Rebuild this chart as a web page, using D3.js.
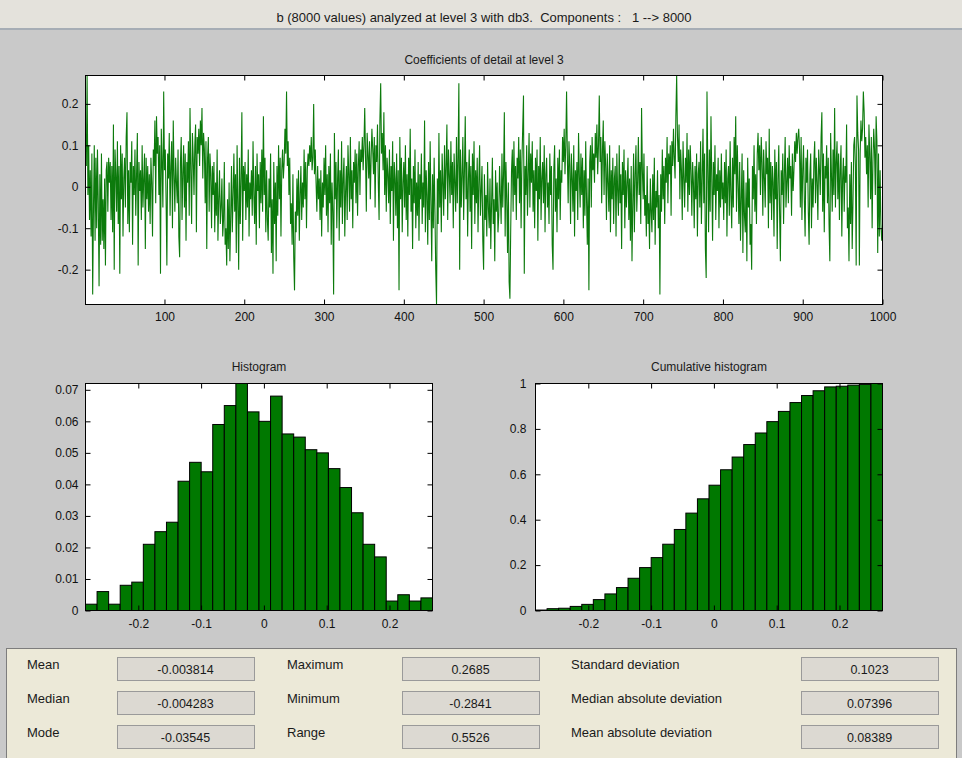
<!DOCTYPE html>
<html><head><meta charset="utf-8">
<script src="https://cdn.jsdelivr.net/npm/d3@7"></script>
<style>
html,body{margin:0;padding:0;background:#c9c9c9;}
svg{display:block;font-family:"Liberation Sans",Arial,sans-serif;}
</style></head><body>
<svg id="c" width="962" height="758"></svg>
<script>
// Detail coefficients at level 3 (1000 values, read/estimated from the picture)
const detailCoefficients = [
.12,.05,.2685,-.02,.10,-.08,.04,-.12,.08,-.26,-.05,.10,-.13,.07,-.10,.09,-.04,-.24,.03,-.14,
.08,-.13,-.03,-.15,.02,-.19,.04,.06,-.06,.07,.01,.06,-.08,.05,-.11,.15,-.20,.09,.03,-.06,
.11,-.09,.05,-.21,.10,-.03,.08,-.12,.02,.07,-.05,.12,.18,-.09,.04,-.11,.06,.01,.11,-.14,
.05,-.02,.09,-.07,.03,.13,-.19,.06,-.01,.04,-.08,.10,-.05,.02,.08,-.15,.07,-.03,.05,-.06,
.03,-.09,.07,.01,-.12,.09,.05,.16,-.04,.17,.08,.12,-.02,.10,-.21,.14,.06,-.05,.23,.04,
.09,-.03,-.19,.08,.02,.13,-.07,.05,.11,-.10,.16,.03,-.06,.07,.01,-.04,.09,-.12,-.17,.06,
.12,-.08,.03,.10,-.05,.08,-.13,.06,.01,.11,-.07,.19,.04,-.09,.13,.07,-.02,.10,.15,-.11,
.12,.08,.14,.05,.16,.10,.19,.02,.13,.09,-.04,.11,-.15,.07,.12,-.06,.08,.03,-.10,.05,
-.02,.06,-.11,.01,-.07,.09,-.13,-.03,.04,-.09,-.05,.02,-.12,-.08,.06,-.14,-.10,-.19,-.03,-.15,
.01,-.18,-.07,.05,-.11,-.02,.08,-.06,.03,-.16,.10,-.04,-.20,.07,-.09,.02,.18,-.13,.05,-.01,
.06,-.08,.03,-.05,.09,-.12,.01,-.03,.04,-.07,.11,-.02,-.09,.05,-.14,.08,-.01,.03,-.10,.06,
-.04,.09,-.06,.17,-.02,.07,-.11,.04,-.08,-.13,.02,-.05,.08,-.16,-.03,-.21,.06,-.09,.01,-.18,
.05,-.07,.10,-.03,.07,-.12,.04,.09,.02,.06,.14,.08,.23,.05,.11,-.02,.07,-.09,-.04,-.14,
.03,-.17,-.25,-.06,-.11,.02,-.07,.04,-.13,-.02,.05,-.08,.01,-.05,.09,-.03,.06,-.10,.04,.08,
.05,.10,.06,.12,.04,.07,.20,.03,.09,.01,-.06,.05,-.03,.02,-.08,.04,-.12,.01,-.05,.07,
-.02,.10,-.07,.03,-.11,.05,-.04,.08,-.14,.01,-.06,-.26,.13,-.03,.06,-.10,.02,.09,-.13,.04,
-.05,.11,-.09,.02,.07,-.12,-.01,.05,-.08,.10,.03,-.06,.12,-.03,.04,-.10,.06,.01,.09,-.04,
.08,-.07,.05,.11,-.02,.09,.06,.12,.04,.10,.19,.07,-.06,.13,.08,.02,.11,-.03,.07,.14,
.09,.03,.12,-.05,.10,.06,.15,.01,-.08,.16,.25,.08,.13,.04,.18,-.02,.10,-.06,.07,.03,
-.04,.09,-.09,.05,-.01,.11,-.13,.06,.02,-.07,.08,-.10,.04,-.25,.12,-.03,.07,-.11,.01,.06,
-.05,.10,-.08,.03,-.12,.07,-.02,.14,-.06,.02,-.15,.05,-.04,.09,-.10,.01,-.07,.06,-.13,.03,
-.03,.08,-.09,.01,-.05,.16,-.11,.04,-.02,-.14,.06,-.08,.11,-.04,-.18,.03,-.10,.07,-.06,-.20,
-.2841,.02,-.09,.13,-.05,.04,-.11,.08,.01,-.07,.10,-.03,.05,.15,-.08,.09,.03,-.04,.11,-.02,
.06,-.10,.08,.01,-.06,.12,-.04,.07,.25,-.20,.09,-.05,.03,.12,-.08,.04,.17,-.03,.06,-.12,
.02,.09,-.06,.05,-.15,.08,-.02,.11,-.09,.04,-.04,.07,-.11,.01,.10,-.07,-.01,.05,-.13,-.20,
.03,-.08,-.02,-.12,.06,-.05,-.10,.02,-.15,-.04,.07,-.09,-.03,-.18,.04,-.06,.01,-.11,-.07,.05,
-.02,-.09,.08,-.05,.03,.18,-.12,.06,-.03,-.16,.01,-.23,-.27,-.10,.04,.09,-.06,.11,-.02,.05,
-.08,.07,.02,.12,-.04,.09,-.10,.06,.14,.22,-.21,.05,-.02,.10,-.07,.03,.13,-.05,.08,.01,
.11,-.06,.04,-.10,.07,-.01,.09,-.13,.05,-.03,.12,-.08,.02,.06,-.04,.10,-.11,.03,.07,-.05,
.01,-.09,.08,-.02,.05,-.14,-.20,.04,.10,-.06,.02,-.11,.07,-.03,.09,-.08,.04,.01,.12,.06,
.14,.03,.10,.23,.07,-.04,.11,.05,-.09,.08,.02,-.06,.10,-.12,.04,-.01,.06,-.08,.13,.03,
-.05,.08,-.02,.07,-.10,.04,-.07,.11,-.03,-.14,.02,-.25,.06,.10,-.05,.12,.04,.08,.01,.13,
.07,.15,.03,.10,.22,.06,.12,-.04,.09,.16,-.02,.11,.05,-.08,.08,.01,-.06,.10,-.11,.04,
-.03,.07,-.09,.02,.05,-.12,.08,-.01,-.07,.10,-.04,.03,-.15,.06,-.02,.09,-.10,.04,-.05,.01,
.07,-.08,.02,-.13,.05,-.18,-.04,.08,-.11,.03,.10,-.06,.01,.12,-.02,.06,-.09,.19,.04,-.03,
.08,-.07,-.02,-.12,.05,-.09,-.04,-.15,.02,-.06,-.11,.03,-.08,.07,-.14,-.01,-.05,.04,-.10,-.02,
-.26,.03,-.06,.09,-.03,.05,-.09,.07,.01,.12,-.04,.08,.03,.10,-.07,.11,.05,.14,.07,.02,
.17,.2685,.12,.06,.15,-.03,.09,.04,-.08,.11,.02,-.05,.07,.01,.13,-.06,.09,-.02,.10,.04,
-.07,.06,.01,-.10,.05,-.03,.08,-.12,.03,.06,-.05,.11,-.09,.02,.14,-.04,.08,-.15,-.22,.23,
.05,-.11,.09,-.06,.17,.02,-.13,.06,-.02,.10,-.08,.03,-.01,.07,-.10,.04,-.05,.08,-.03,.01,
-.08,.06,-.04,.09,-.12,.02,.05,-.07,.11,-.02,-.10,.07,-.05,.12,.03,.17,-.06,.10,.01,-.09,
.06,-.13,-.03,.08,-.16,.04,-.07,-.11,.01,-.18,.07,-.05,.02,-.14,-.09,-.20,.05,-.03,.10,-.06,
.03,-.09,.08,.13,.04,.10,-.02,.12,.06,-.07,.09,.02,-.05,.11,.03,.07,-.10,.14,-.04,.06,
-.08,.05,.01,-.12,.09,-.03,.06,-.15,.02,.10,-.06,-.18,.04,-.02,.08,-.09,.03,.12,-.05,.01,
.07,-.04,.10,.02,.05,-.07,.08,-.01,.04,.11,.06,.13,.08,.12,.14,.09,-.05,.12,-.08,.04,
.10,-.03,-.12,.07,.01,.09,-.06,-.14,.03,.08,-.10,.02,-.05,.06,.11,-.04,.07,.01,-.08,.09,
.04,-.02,.12,.18,-.06,.08,-.11,.05,.02,.10,-.04,.07,-.09,-.18,.13,.03,-.06,.09,-.02,.19,
-.05,.06,.11,-.03,.08,-.08,.04,.10,-.12,.02,.07,-.06,.05,.01,.15,-.10,-.05,-.18,.03,-.09,
.06,-.15,-.04,.10,.12,.05,-.19,.22,.13,.09,-.19,.08,.16,.11,.14,.23,.18,.07,.12,.03,
.10,-.05,.15,.08,-.03,.12,-.10,.06,.14,.09,-.02,.17,.11,-.16,.08,-.12,.04,-.09,-.13,-.10
];

// Histogram (30 bins between min and max), relative frequencies
const histMin = -0.2841;
const histMax = 0.2685;
const histFrequencies = [
0.002,0.006,0.002,0.008,0.009,0.021,0.025,0.028,0.041,0.047,
0.044,0.059,0.065,0.072,0.063,0.060,0.068,0.056,0.055,0.051,
0.050,0.045,0.039,0.031,0.021,0.017,0.003,0.005,0.003,0.004
];

// Tick values
const signalXTicks = [100,200,300,400,500,600,700,800,900,1000];
const signalYTicks = [-0.2,-0.1,0,0.1,0.2];
const histXTicks = [-0.2,-0.1,0,0.1,0.2];
const histYTicks = [0,0.01,0.02,0.03,0.04,0.05,0.06,0.07];
const cumYTicks = [0,0.2,0.4,0.6,0.8,1];

// Statistics panel
const statLabels = [
  ["Mean","Median","Mode"],
  ["Maximum","Minimum","Range"],
  ["Standard deviation","Median absolute deviation","Mean absolute deviation"]
];
const statValues = [
  ["-0.003814","-0.004283","-0.03545"],
  ["0.2685","-0.2841","0.5526"],
  ["0.1023","0.07396","0.08389"]
];

const headerText = "b (8000 values) analyzed at level 3 with db3.  Components :   1 --> 8000";
const signalTitle = "Coefficients of detail at level 3";
const histTitle = "Histogram";
const cumTitle = "Cumulative histogram";

const svg = d3.select("#c");
const fmt = d => String(d);

// header bar
svg.append("rect").attr("x",0).attr("y",0).attr("width",962).attr("height",28).attr("fill","#e4e2dc");
svg.append("rect").attr("x",0).attr("y",28).attr("width",962).attr("height",2).attr("fill","#a6adb5");
svg.append("text").attr("x",484).attr("y",17).attr("text-anchor","middle").attr("dominant-baseline","central")
  .style("white-space","pre").attr("font-size",13).attr("fill","#1a1a1a").text(headerText);

function axes(g, xs, ys, xTicks, yTicks, xPad, yPad) {
  const [x0,x1] = xs.range(), [y1,y0] = ys.range();
  const style = sel => {
    sel.select(".domain").remove();
    sel.attr("font-size",12).attr("font-family",null);
    sel.selectAll("line").attr("stroke","#000");
    sel.selectAll("text").attr("fill","#111");
  };
  g.append("g").attr("transform",`translate(0,${y1})`)
    .call(d3.axisBottom(xs).tickValues(xTicks).tickSizeInner(-5).tickSizeOuter(0).tickPadding(xPad).tickFormat(fmt)).call(style);
  g.append("g").attr("transform",`translate(0,${y0})`)
    .call(d3.axisTop(xs).tickValues(xTicks).tickSizeInner(-5).tickSizeOuter(0).tickFormat(() => "")).call(style);
  g.append("g").attr("transform",`translate(${x0},0)`)
    .call(d3.axisLeft(ys).tickValues(yTicks).tickSizeInner(-5).tickSizeOuter(0).tickPadding(yPad).tickFormat(fmt)).call(style);
  g.append("g").attr("transform",`translate(${x1},0)`)
    .call(d3.axisRight(ys).tickValues(yTicks).tickSizeInner(-5).tickSizeOuter(0).tickFormat(() => "")).call(style);
  g.append("rect").attr("x",x0).attr("y",y0).attr("width",x1-x0).attr("height",y1-y0)
    .attr("fill","none").attr("stroke","#000").attr("stroke-width",1);
}

function background(g, xs, ys) {
  const [x0,x1] = xs.range(), [y1,y0] = ys.range();
  g.append("rect").attr("x",x0).attr("y",y0).attr("width",x1-x0).attr("height",y1-y0).attr("fill","#fff");
}

// ---- Signal plot
const sx = d3.scaleLinear([1, detailCoefficients.length], [85.5, 882.5]);
const sy = d3.scaleLinear(d3.extent(detailCoefficients), [304.5, 75.5]);
const gS = svg.append("g");
background(gS, sx, sy);
gS.append("defs").append("clipPath").attr("id","clipS").append("rect")
  .attr("x",85.5).attr("y",75.5).attr("width",882.5-85.5).attr("height",304.5-75.5);
gS.append("path").datum(detailCoefficients)
  .attr("clip-path","url(#clipS)")
  .attr("fill","none").attr("stroke","#0c7a0c").attr("stroke-width",1.1)
  .attr("d", d3.line().x((d,i) => sx(i+1)).y(d => sy(d)));
axes(gS, sx, sy, signalXTicks, signalYTicks, 8, 7);
svg.append("text").attr("x",(85.5+882.5)/2).attr("y",60).attr("text-anchor","middle").attr("dominant-baseline","central")
  .attr("font-size",12).attr("fill","#1a1a1a").text(signalTitle);

// ---- Histograms
const binW = (histMax - histMin) / histFrequencies.length;
const bins = histFrequencies.map((v,i) => ({x0: histMin + i*binW, x1: histMin + (i+1)*binW, v}));
const cum = Array.from(d3.cumsum(histFrequencies));
const cumBins = bins.map((b,i) => ({x0:b.x0, x1:b.x1, v:cum[i]}));

function histPlot(data, xRange, yMax, yTicks, title, yPad) {
  const xs = d3.scaleLinear([histMin, histMax], xRange);
  const ys = d3.scaleLinear([0, yMax], [610.5, 383.5]);
  const g = svg.append("g");
  background(g, xs, ys);
  g.selectAll("rect.bar").data(data).join("rect").attr("class","bar")
    .attr("x", d => xs(d.x0)).attr("width", d => xs(d.x1) - xs(d.x0))
    .attr("y", d => ys(d.v)).attr("height", d => ys(0) - ys(d.v))
    .attr("fill","#007800").attr("stroke","#000").attr("stroke-width",1);
  axes(g, xs, ys, histXTicks, yTicks, 9, yPad);
  svg.append("text").attr("x",(xRange[0]+xRange[1])/2).attr("y",367).attr("text-anchor","middle").attr("dominant-baseline","central")
    .attr("font-size",12).attr("fill","#1a1a1a").text(title);
}
histPlot(bins, [85.5, 432.5], d3.max(histFrequencies), histYTicks, histTitle, 7);
histPlot(cumBins, [535.5, 882.5], 1, cumYTicks, cumTitle, 9);

// ---- Statistics panel
svg.append("rect").attr("x",6.5).attr("y",648.5).attr("width",950).attr("height",110)
  .attr("fill","#ece9d8").attr("stroke","#7d7d7d");
const labelX = [27, 287, 571];
const boxX = [117, 402, 801];
const boxW = 137;
const rowY = [657, 691, 725];
statLabels.forEach((col, c) => {
  col.forEach((lab, r) => {
    svg.append("text").attr("x",labelX[c]).attr("y",rowY[r]+7).attr("dominant-baseline","central")
      .attr("font-size",13).attr("fill","#1a1a1a").text(lab);
    svg.append("rect").attr("x",boxX[c]+0.5).attr("y",rowY[r]+0.5).attr("width",boxW).attr("height",23)
      .attr("fill","#dcd9d2").attr("stroke","#9a9a9a");
    svg.append("text").attr("x",boxX[c]+boxW/2).attr("y",rowY[r]+13).attr("text-anchor","middle").attr("dominant-baseline","central")
      .attr("font-size",12.5).attr("fill","#1a1a1a").text(statValues[c][r]);
  });
});
</script>
</body></html>
